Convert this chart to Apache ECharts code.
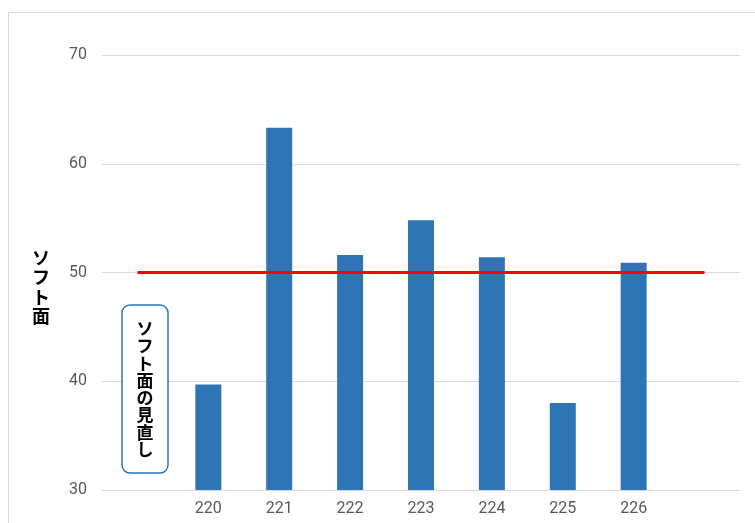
<!DOCTYPE html>
<html>
<head>
<meta charset="utf-8">
<script src="https://cdn.jsdelivr.net/npm/echarts@6/dist/echarts.min.js"></script>
<style>
  html, body { margin: 0; padding: 0; background: #ffffff; }
  #chart { width: 755px; height: 523px; }
</style>
</head>
<body>
<div id="chart"></div>
<script>
// Category slots: an empty slot on each side so the target line runs past the bars
const categories = ['', '220', '221', '222', '223', '224', '225', '226', ''];
const scoreValues = [null, 39.7, 63.3, 51.6, 54.8, 51.4, 38.0, 50.9, null];
const targetValues = [50, 50, 50, 50, 50, 50, 50, 50, 50];
const yTicks = [30, 40, 50, 60, 70];
const axisTitle = 'ソフト面';
const noteText = 'ソフト面の見直し';

const numFont = "'Liberation Sans Narrow', 'Arial Narrow', 'Roboto', sans-serif";
const jpFont = "'Noto Sans CJK JP', sans-serif";

const chart = echarts.init(document.getElementById('chart'));

chart.setOption({
  backgroundColor: '#ffffff',
  animation: false,
  grid: { left: 102, right: 15, top: 55, bottom: 33 },
  xAxis: {
    type: 'category',
    data: categories,
    boundaryGap: true,
    axisTick: { show: false },
    axisLine: { lineStyle: { color: '#d9d9d9', width: 1 } },
    axisLabel: { color: '#595959', fontSize: 16, fontFamily: numFont, margin: 11 }
  },
  yAxis: {
    type: 'value',
    min: yTicks[0],
    max: yTicks[yTicks.length - 1],
    interval: 10,
    axisLine: { show: false },
    axisTick: { show: false },
    splitLine: { lineStyle: { color: '#d9d9d9', width: 1 } },
    axisLabel: { color: '#595959', fontSize: 16, fontFamily: numFont, margin: 15 }
  },
  series: [
    {
      type: 'bar',
      data: scoreValues,
      barWidth: 26,
      itemStyle: { color: '#2e75b6' },
      z: 2
    },
    {
      type: 'line',
      data: targetValues,
      symbol: 'none',
      lineStyle: { color: '#ff0000', width: 3 },
      z: 3
    }
  ],
  graphic: [
    {
      type: 'rect',
      shape: { x: 8.5, y: 12.5, width: 900, height: 700 },
      style: { fill: 'none', stroke: '#d9d9d9', lineWidth: 1 },
      silent: true,
      z: 0
    },
    {
      type: 'text',
      x: 41,
      y: 287,
      style: {
        text: axisTitle.split('').join('\n'),
        fill: '#000000',
        font: 'bold 18px ' + jpFont,
        lineHeight: 19.5,
        textAlign: 'center',
        textVerticalAlign: 'middle'
      },
      z: 10
    },
    {
      type: 'rect',
      shape: { x: 122, y: 305, width: 46, height: 168, r: 8 },
      style: { fill: '#ffffff', stroke: '#2e75b6', lineWidth: 1.5 },
      z: 10
    },
    {
      type: 'text',
      x: 145,
      y: 389,
      style: {
        text: noteText.split('').join('\n'),
        fill: '#000000',
        font: 'bold 17px ' + jpFont,
        lineHeight: 17.3,
        textAlign: 'center',
        textVerticalAlign: 'middle'
      },
      z: 11
    }
  ]
});
</script>
</body>
</html>
